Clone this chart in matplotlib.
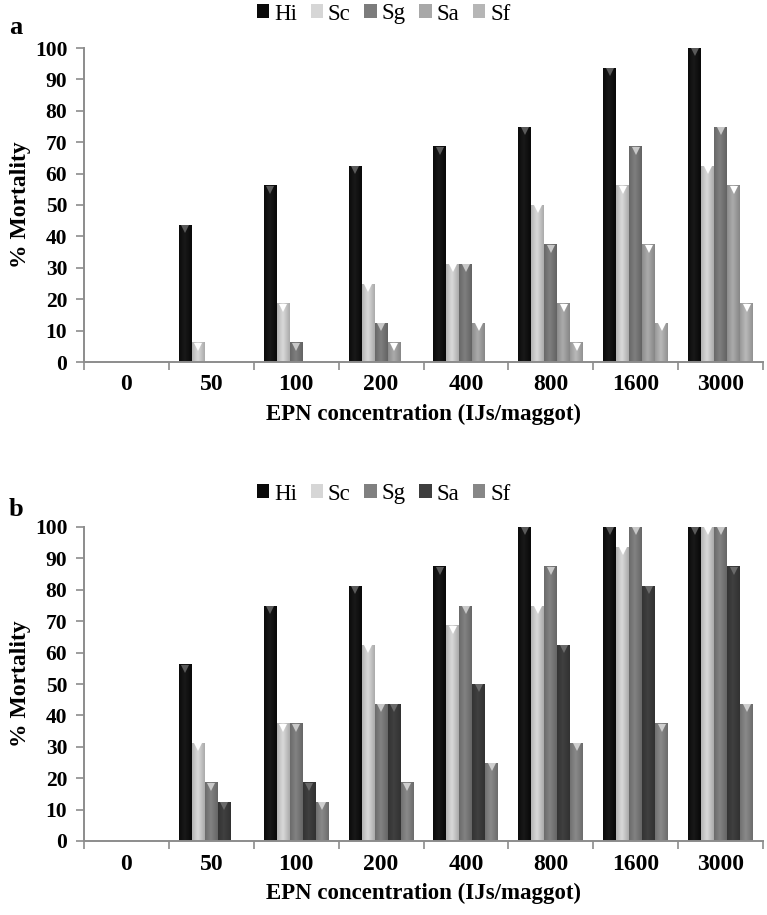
import matplotlib
matplotlib.use('Agg')
import matplotlib.pyplot as plt
import matplotlib.transforms as mtransforms
from matplotlib.patches import Patch
import numpy as np

plt.rcParams['font.family'] = ['Liberation Serif', 'DejaVu Serif']

categories = ['0', '50', '100', '200', '400', '800', '1600', '3000']
series = ['Hi', 'Sc', 'Sg', 'Sa', 'Sf']

# Panel a
a_hi = [0, 43.75, 56.25, 62.5, 68.75, 75, 93.75, 100]
a_sc = [0, 6.25, 18.75, 25, 31.25, 50, 56.25, 62.5]
a_sg = [0, 0, 6.25, 12.5, 31.25, 37.5, 68.75, 75]
a_sa = [0, 0, 0, 6.25, 12.5, 18.75, 37.5, 56.25]
a_sf = [0, 0, 0, 0, 0, 6.25, 12.5, 18.75]

# Panel b
b_hi = [0, 56.25, 75, 81.25, 87.5, 100, 100, 100]
b_sc = [0, 31.25, 37.5, 62.5, 68.75, 75, 93.75, 100]
b_sg = [0, 18.75, 37.5, 43.75, 75, 87.5, 100, 100]
b_sa = [0, 12.5, 18.75, 43.75, 50, 62.5, 81.25, 87.5]
b_sf = [0, 0, 12.5, 18.75, 25, 31.25, 37.5, 43.75]

colors_a = ['#0a0a0a', '#d6d6d6', '#7c7c7c', '#a8a8a8', '#b6b6b6']
colors_b = ['#0a0a0a', '#d6d6d6', '#808080', '#3e3e3e', '#878787']
tri_a = ['#5a5a5a', '#ffffff', '#c8c8c8', '#ffffff', '#ffffff']
tri_b = ['#5a5a5a', '#ffffff', '#c8c8c8', '#6a6a6a', '#cfcfcf']

W, H = 767, 915
fig = plt.figure(figsize=(W / 100, H / 100), dpi=100)

def fx(px):
    return px / W

def fy(py):
    return 1 - py / H

axis_gray = '#8c8c8c'
bw = 0.153


def shade(color, f):
    c = np.array(matplotlib.colors.to_rgb(color))
    if f >= 1:
        return c + (1 - c) * (f - 1)
    return c * f


def draw_panel(ax, data, colors, tris, legend_y):
    x = np.arange(len(categories))
    offsets = (np.arange(len(series)) - 2) * bw
    grad = np.linspace(0, 1, 32)
    prof = 1 - np.abs(grad - 0.45) * 2
    tri_off = mtransforms.ScaledTranslation(0, -3.2 / 72, fig.dpi_scale_trans)
    for i, (vals, col) in enumerate(zip(data, colors)):
        bars = ax.bar(x + offsets[i], vals, width=bw, color=col, zorder=2,
                      edgecolor='none')
        base = np.array(matplotlib.colors.to_rgb(col))
        lum = base.mean()
        img = np.zeros((1, len(grad), 3))
        for k, p in enumerate(prof):
            if lum < 0.2:
                img[0, k] = shade(col, 1 + 0.06 * p)
            else:
                img[0, k] = shade(col, 0.82 + 0.2 * p)
        img = np.clip(img, 0, 1)
        for b, v in zip(bars, vals):
            if v <= 0:
                continue
            x0 = b.get_x()
            im = ax.imshow(img, extent=(x0, x0 + b.get_width(), 0, v),
                           aspect='auto', zorder=2.5, interpolation='bilinear')
            im.set_clip_path(b)
            ax.plot([b.get_x() + b.get_width() / 2], [v], marker='v',
                    markersize=5.5, color=tris[i], markeredgewidth=0,
                    transform=ax.transData + tri_off, zorder=3)
    ax.set_xlim(-0.5, len(categories) - 0.5)
    ax.set_ylim(0, 100)
    ax.set_yticks(np.arange(0, 101, 10))
    ax.set_yticklabels([str(v) for v in range(0, 101, 10)],
                       fontsize=15.5, fontweight='bold')
    ax.set_xticks(np.arange(-0.5, len(categories), 1.0))
    ax.set_xticklabels([])
    ax.set_xticks(x, minor=True)
    ax.set_xticklabels(categories, minor=True, fontsize=17, fontweight='bold')
    ax.tick_params(axis='x', which='minor', length=0, pad=9)
    ax.tick_params(axis='x', which='major', length=6, color=axis_gray,
                   width=1.2, direction='out')
    ax.tick_params(axis='y', length=6, color=axis_gray, width=1.2,
                   direction='out', pad=6)
    for s in ['top', 'right']:
        ax.spines[s].set_visible(False)
    for s in ['left', 'bottom']:
        ax.spines[s].set_color(axis_gray)
        ax.spines[s].set_linewidth(1.4)
    ax.set_ylabel('% Mortality', fontsize=17, fontweight='bold', labelpad=3)
    ax.set_xlabel('EPN concentration (IJs/maggot)', fontsize=16.5,
                  fontweight='bold', labelpad=6)
    handles = [Patch(facecolor=c, edgecolor='none') for c in colors]
    fig.legend(handles, series, loc='center', ncol=5,
               bbox_to_anchor=(0.5, legend_y), frameon=False, fontsize=16.5,
               handlelength=0.55, handleheight=0.55, handletextpad=0.2,
               columnspacing=0.6)
    return ax


ax_a = fig.add_axes([fx(84), fy(362), fx(763 - 84), fy(48) - fy(362)])
draw_panel(ax_a, [a_hi, a_sc, a_sg, a_sa, a_sf], colors_a, tri_a, fy(14))
fig.text(fx(9), fy(28), 'a', fontsize=19, fontweight='bold', va='center')

ax_b = fig.add_axes([fx(84), fy(841), fx(763 - 84), fy(527) - fy(841)])
draw_panel(ax_b, [b_hi, b_sc, b_sg, b_sa, b_sf], colors_b, tri_b, fy(494))
fig.text(fx(9), fy(510), 'b', fontsize=19, fontweight='bold', va='center')

fig.savefig('out.png', dpi=100)
